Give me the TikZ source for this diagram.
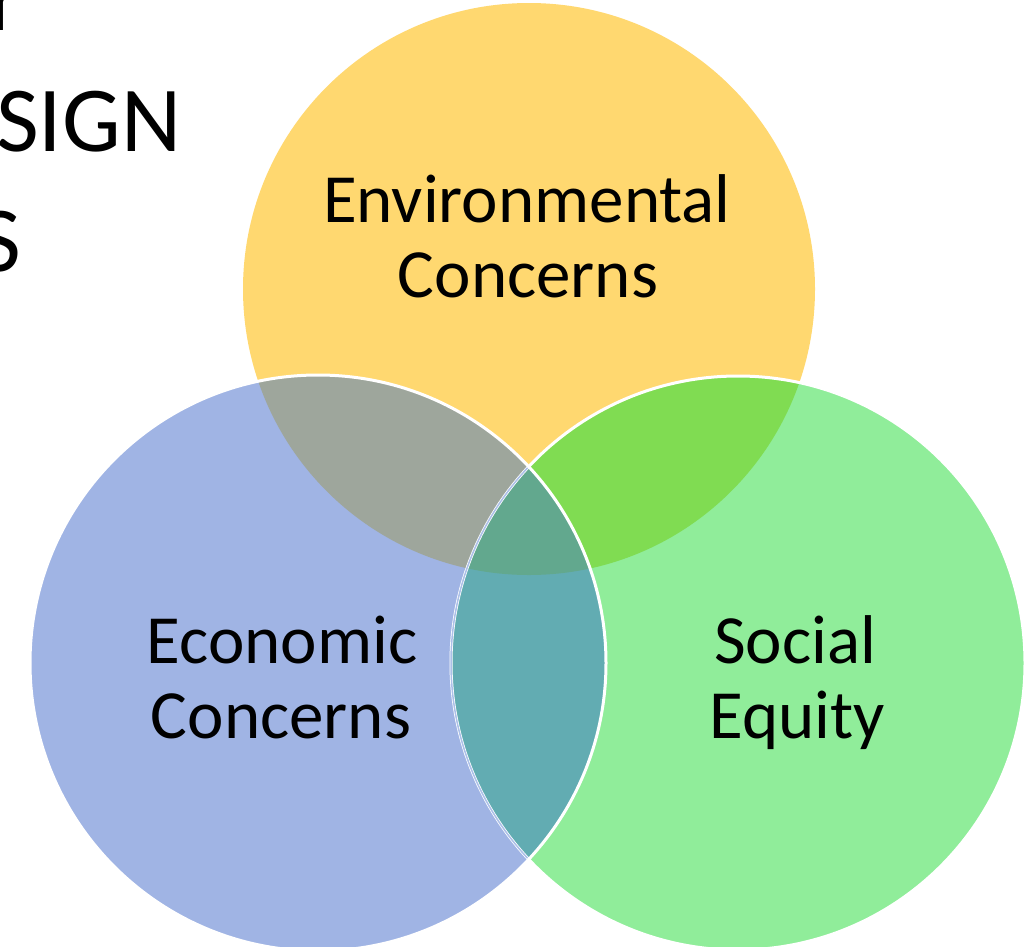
\documentclass[tikz,border=0pt]{standalone}
\usepackage{fontspec}
\setmainfont{Carlito}

% region colours of the three-set Venn diagram
\definecolor{envfill}{RGB}{255,216,112}
\definecolor{econfill}{RGB}{160,180,228}
\definecolor{socfill}{RGB}{144,237,154}
\definecolor{envecon}{RGB}{158,166,156}
\definecolor{envsoc}{RGB}{128,220,82}
\definecolor{econsoc}{RGB}{98,172,178}
\definecolor{allthree}{RGB}{98,168,142}
\definecolor{innerrim}{RGB}{172,192,232}

\tikzset{
  venntext/.style={anchor=base, font=\fontsize{69}{69}\selectfont, text=black, inner sep=0pt},
  titletext/.style={anchor=base west, font=\fontsize{93}{93}\selectfont, text=black, inner sep=0pt},
  rim/.style={draw=white, line width=3pt}
}

\begin{document}
\begin{tikzpicture}[x=1pt,y=-1pt]
  \useasboundingbox (0,0) rectangle (1036,946);
  \fill[white] (0,0) rectangle (1036,946);

  % circle centres
  \coordinate (cEnv) at (529,289);
  \coordinate (cEcon) at (318,663);
  \coordinate (cSoc) at (738,663);

  % title lines running in from the left edge
  \node[titletext] (t1) at (-11,30) {r};
  \node[titletext] (t2) at (-4,151) {SIGN};
  \node[titletext] (t3) at (-22,271) {S};

  % base discs
  \fill[envfill] (cEnv) circle (286pt);
  \fill[socfill] (cSoc) circle (287pt);
  \fill[econfill] (cEcon) circle (288pt);

  % pairwise overlaps
  \begin{scope}
    \clip (cEnv) circle (286pt);
    \fill[envecon] (cEcon) circle (288pt);
    \fill[envsoc] (cSoc) circle (287pt);
  \end{scope}
  \begin{scope}
    \clip (cEcon) circle (288pt);
    \fill[econsoc] (cSoc) circle (287pt);
  \end{scope}
  % centre region
  \begin{scope}
    \clip (cEnv) circle (286pt);
    \clip (cEcon) circle (288pt);
    \fill[allthree] (cSoc) circle (287pt);
  \end{scope}

  % outlines
  \draw[rim] (cSoc) circle (287pt);
  \begin{scope}
    \clip (cEcon) circle (288pt);
    \draw[draw=innerrim, line width=1.5pt] (cSoc) circle (287pt);
  \end{scope}
  \draw[rim] (cEcon) circle (288pt);

  % labels
  \node[venntext] (env1) at (527,222) {Environmental};
  \node[venntext] (env2) at (528,297) {Concerns};
  \node[venntext] (econ1) at (282,663) {Economic};
  \node[venntext] (econ2) at (281,738) {Concerns};
  \node[venntext] (soc1) at (795,663) {Social};
  \node[venntext] (soc2) at (797,738) {Equity};
\end{tikzpicture}
\end{document}
